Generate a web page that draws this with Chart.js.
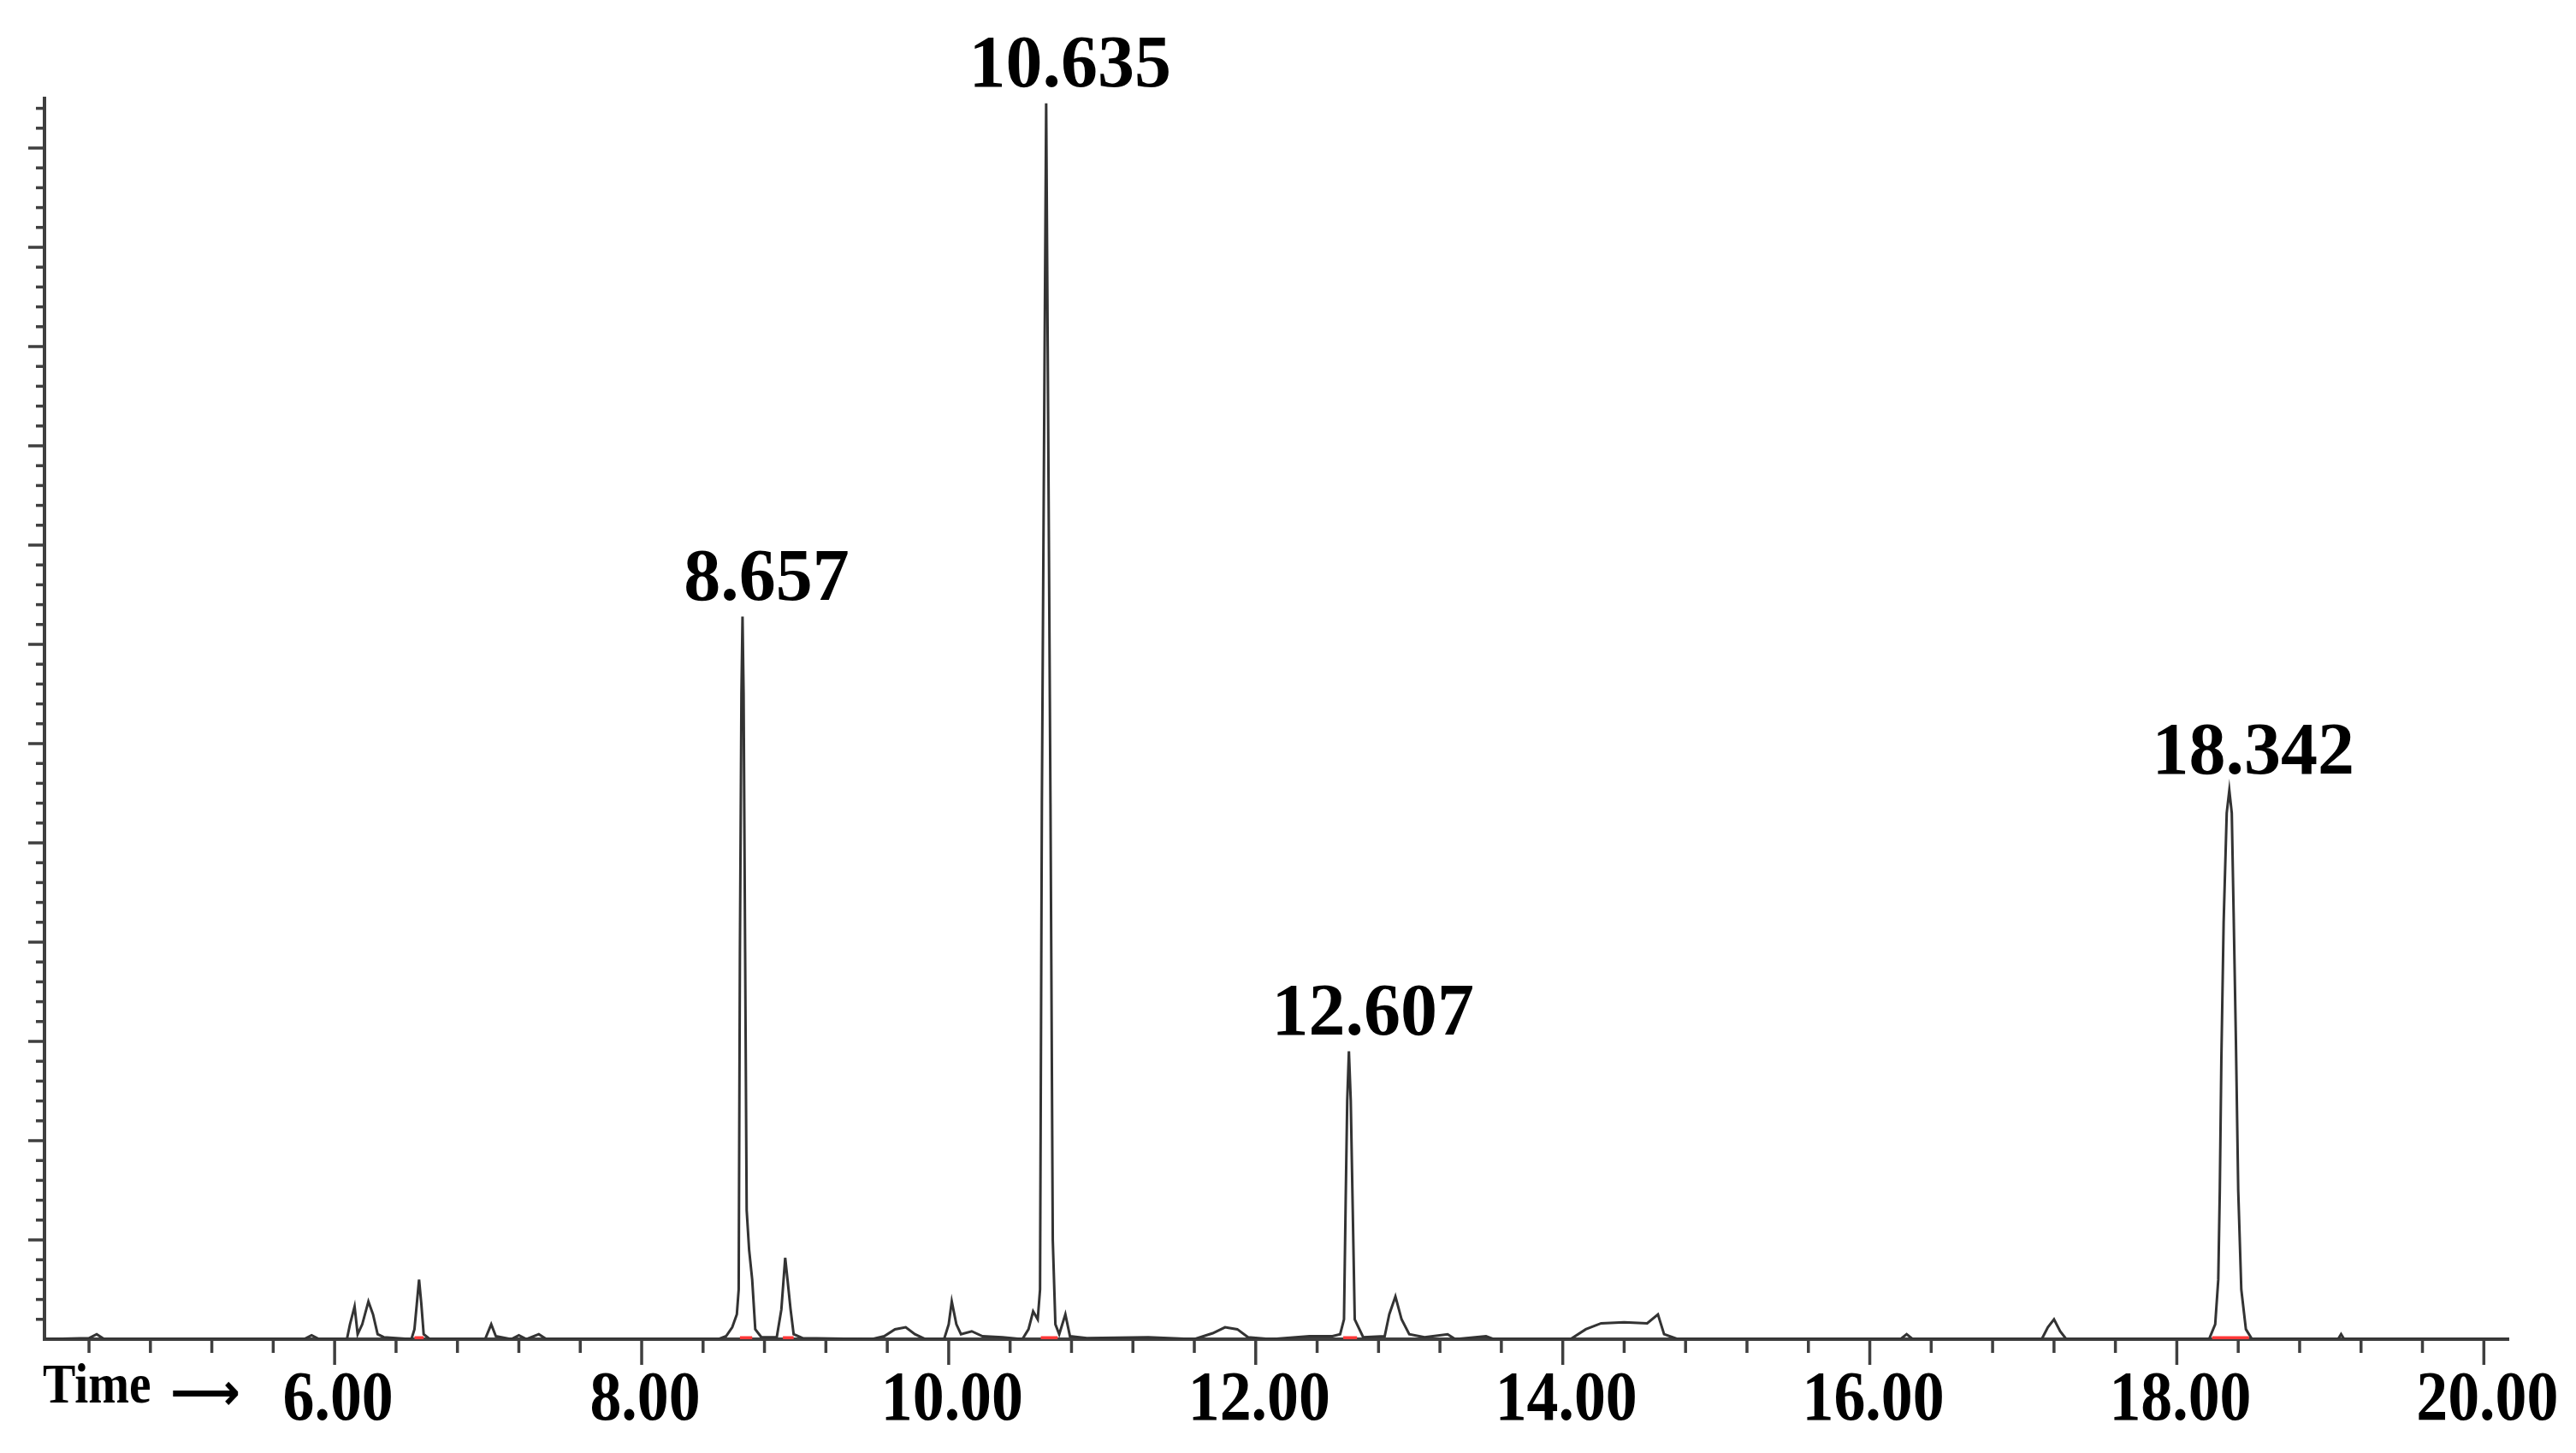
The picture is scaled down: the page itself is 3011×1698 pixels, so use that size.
<!DOCTYPE html>
<html>
<head>
<meta charset="utf-8">
<style>
  html, body { margin: 0; padding: 0; background: #fff; }
  #wrap { width: 3011px; height: 1698px; }
</style>
<script src="https://cdn.jsdelivr.net/npm/chart.js@4.4.1/dist/chart.umd.min.js"></script>
</head>
<body>
<div id="wrap"><canvas id="chromChart" width="3011" height="1698"></canvas></div>
<script>
// retention time (min) and detector response (in major y-tick units)
const times = [
  4.11, 4.40, 4.45, 4.50, 5.80, 5.85, 5.90, 6.08, 6.10, 6.13, 6.15, 6.18, 6.22, 6.25, 6.28, 6.32,
  6.50, 6.52, 6.535, 6.55, 6.565, 6.58, 6.62, 6.98, 7.02, 7.05, 7.15, 7.20, 7.25, 7.33, 7.38,
  8.50, 8.55, 8.59, 8.62, 8.632, 8.64, 8.65, 8.657, 8.664, 8.674, 8.684, 8.70, 8.72, 8.74, 8.78,
  8.88, 8.91, 8.935, 8.95, 8.97, 8.99, 9.05, 9.50, 9.58, 9.65, 9.72, 9.78, 9.85, 9.97, 10.00,
  10.02, 10.05, 10.08, 10.15, 10.22, 10.35, 10.48, 10.52, 10.55, 10.58, 10.595, 10.607, 10.625,
  10.635, 10.645, 10.663, 10.678, 10.695, 10.72, 10.76, 10.79, 10.90, 11.30, 11.60, 11.72, 11.80,
  11.88, 11.95, 12.10, 12.35, 12.50, 12.55, 12.575, 12.586, 12.596, 12.607, 12.619, 12.632, 12.645,
  12.70, 12.84, 12.87, 12.91, 12.95, 13.00, 13.10, 13.25, 13.30, 13.50, 13.55, 14.05, 14.15,
  14.25, 14.40, 14.55, 14.62, 14.66, 14.75, 16.20, 16.24, 16.28, 17.12, 17.16, 17.20, 17.24,
  17.28, 18.21, 18.25, 18.27, 18.28, 18.29, 18.305, 18.325, 18.342, 18.358, 18.37, 18.385, 18.40,
  18.42, 18.45, 18.49, 19.05, 19.07, 19.09, 20.16
];
const signal = [
  0, 0.01, 0.05, 0, 0, 0.04, 0, 0, 0.15, 0.33, 0.05, 0.15, 0.38, 0.25, 0.05, 0.02,
  0, 0.1, 0.35, 0.6, 0.35, 0.05, 0, 0, 0.15, 0.03, 0, 0.04, 0, 0.05, 0,
  0, 0.03, 0.12, 0.25, 0.5, 3.9, 6.5, 7.28, 6.5, 3.9, 1.3, 0.9, 0.6, 0.1, 0.02,
  0.02, 0.3, 0.82, 0.6, 0.3, 0.05, 0.01, 0, 0.03, 0.1, 0.12, 0.05, 0, 0, 0.15,
  0.38, 0.15, 0.05, 0.08, 0.03, 0.02, 0, 0.1, 0.28, 0.2, 0.5, 5.4, 10.0,
  12.45, 10.0, 5.4, 1.0, 0.15, 0.05, 0.25, 0.03, 0.01, 0.02, 0, 0.06, 0.12,
  0.1, 0.02, 0, 0.03, 0.03, 0.05, 0.2, 1.4, 2.4, 2.9, 2.4, 1.3, 0.2,
  0.02, 0.03, 0.25, 0.43, 0.2, 0.05, 0.02, 0.05, 0, 0.03, 0, 0, 0.1,
  0.16, 0.17, 0.16, 0.25, 0.05, 0, 0, 0.05, 0, 0, 0.12, 0.2, 0.08,
  0, 0, 0.15, 0.6, 1.5, 2.8, 4.2, 5.3, 5.53, 5.3, 4.3, 3.0, 1.5,
  0.5, 0.1, 0, 0, 0.05, 0, 0
];

// integrated peaks (red baselines)
const integStart = [6.52, 8.64, 8.92, 10.60, 12.57, 18.23];
const integEnd = [6.58, 8.72, 8.99, 10.71, 12.66, 18.47];

// labelled peaks
const peakTimes = [8.657, 10.635, 12.607, 18.342];
const peakLabels = ['8.657', '10.635', '12.607', '18.342'];

// x axis
const xTickValues = [6, 8, 10, 12, 14, 16, 18, 20];
const xTickLabels = ['6.00', '8.00', '10.00', '12.00', '14.00', '16.00', '18.00', '20.00'];
const xMin = 4.11, xMax = 20.16;
const yMax = 12.5;

const traceColor = '#333333';
const axisColor = '#3f3f3f';

const datasets = [{
  data: times.map((t, i) => ({ x: t, y: signal[i] })),
  borderColor: traceColor,
  borderWidth: 3,
  pointRadius: 0,
  tension: 0,
  order: 2
}];
integStart.forEach((s, i) => {
  datasets.push({
    data: [{ x: s, y: 0 }, { x: integEnd[i], y: 0 }],
    borderColor: '#ff3838',
    borderWidth: 7,
    pointRadius: 0,
    order: 1
  });
});

function stepTicks(from, to, step) {
  const out = [];
  const n = Math.round((to - from) / step);
  for (let i = 0; i <= n; i++) out.push({ value: Math.round((from + i * step) * 100) / 100 });
  return out;
}

// draw text squeezed horizontally
function narrowText(ctx, text, x, y, sx, align) {
  const w = ctx.measureText(text).width * sx;
  let left = x;
  if (align === 'center') left = x - w / 2;
  ctx.save();
  ctx.translate(left, y);
  ctx.scale(sx, 1);
  ctx.textAlign = 'left';
  ctx.fillText(text, 0, 0);
  ctx.restore();
}

const overlay = {
  id: 'overlay',
  afterDraw(chart) {
    const { ctx, chartArea, scales: { x, y } } = chart;
    ctx.save();
    ctx.strokeStyle = axisColor;
    ctx.lineCap = 'butt';

    // x tick marks
    ctx.lineWidth = 3.5;
    x.ticks.forEach(t => {
      const px = x.getPixelForValue(t.value);
      const major = xTickValues.some(v => Math.abs(v - t.value) < 1e-6);
      ctx.beginPath();
      ctx.moveTo(px, chartArea.bottom);
      ctx.lineTo(px, chartArea.bottom + (major ? 30 : 16));
      ctx.stroke();
    });

    // y tick marks
    y.ticks.forEach(t => {
      const py = y.getPixelForValue(t.value);
      const major = Math.abs(t.value - Math.round(t.value)) < 1e-6;
      ctx.beginPath();
      ctx.moveTo(chartArea.left, py);
      ctx.lineTo(chartArea.left - (major ? 19 : 10), py);
      ctx.stroke();
    });

    ctx.fillStyle = '#000';
    ctx.textBaseline = 'alphabetic';

    // x tick labels
    ctx.font = 'bold 82px "Liberation Serif"';
    xTickValues.forEach((v, i) => {
      narrowText(ctx, xTickLabels[i], x.getPixelForValue(v) + 4, chartArea.bottom + 94, 0.9, 'center');
    });

    // peak labels
    ctx.font = 'bold 86px "Liberation Serif"';
    peakTimes.forEach((t, i) => {
      const h = signal[times.indexOf(t)];
      narrowText(ctx, peakLabels[i], x.getPixelForValue(t) + 28, y.getPixelForValue(h) - 20, 1, 'center');
    });

    // "Time ->" caption
    ctx.font = 'bold 66px "Liberation Serif"';
    narrowText(ctx, 'Time', chartArea.left - 2, chartArea.bottom + 74, 0.87, 'left');
    ctx.font = 'bold 60px "DejaVu Sans"';
    const arrow = '\u27F6';
    const w = ctx.measureText(arrow).width;
    ctx.save();
    ctx.translate(chartArea.left + 147, chartArea.bottom + 82);
    ctx.scale(82 / w, 1);
    ctx.fillText(arrow, 0, 0);
    ctx.restore();

    ctx.restore();
  }
};

const ctx = document.getElementById('chromChart').getContext('2d');

new Chart(ctx, {
  type: 'line',
  data: { datasets },
  options: {
    responsive: false,
    animation: false,
    devicePixelRatio: 1,
    layout: { padding: { left: 52, top: 115, right: 79, bottom: 0 } },
    plugins: {
      legend: { display: false },
      tooltip: { enabled: false }
    },
    scales: {
      x: {
        type: 'linear',
        min: xMin,
        max: xMax,
        afterBuildTicks: (scale) => { scale.ticks = stepTicks(4.4, 20.0, 0.4); },
        afterFit: (scale) => { scale.height = 133; },
        grid: { display: true, drawOnChartArea: false, drawTicks: false },
        border: { display: true, color: axisColor, width: 4 },
        ticks: { display: false }
      },
      y: {
        min: 0,
        max: yMax,
        afterBuildTicks: (scale) => { scale.ticks = stepTicks(0.2, 12.4, 0.2); },
        afterFit: (scale) => { scale.width = 0; },
        grid: { display: true, drawOnChartArea: false, drawTicks: false },
        border: { display: true, color: axisColor, width: 4 },
        ticks: { display: false }
      }
    }
  },
  plugins: [overlay]
});
</script>
</body>
</html>
